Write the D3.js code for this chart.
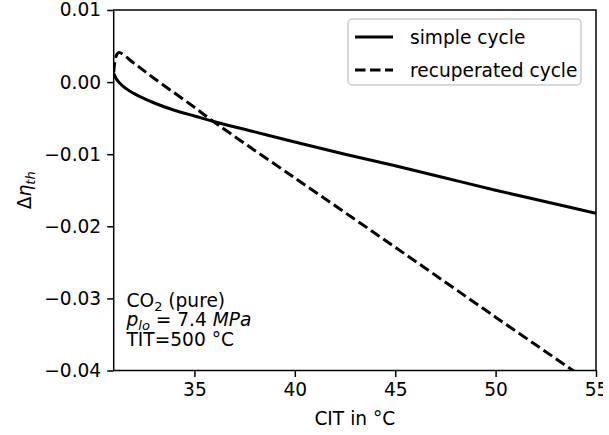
<!DOCTYPE html>
<html>
<head>
<meta charset="utf-8">
<script src="https://cdn.jsdelivr.net/npm/d3@7"></script>
<style>
  body { margin: 0; background: #fff; }
  svg { font-family: "DejaVu Sans", sans-serif; }
</style>
</head>
<body>
<div id="chart"></div>
<script>
// data
const simpleX = [30.98, 31.0, 31.1, 31.3, 31.6, 32, 32.5, 33, 34, 35, 36, 38, 40, 42.5, 45, 47.5, 50, 52.5, 55];
const simpleY = [0.0012, 0.0011, 0.0005, -0.0002, -0.0009, -0.0016, -0.0023, -0.0029, -0.0039, -0.0047, -0.0055, -0.0069, -0.0083, -0.0100, -0.0116, -0.0133, -0.0150, -0.0166, -0.0182];
const recupX = [30.98, 31.02, 31.08, 31.15, 31.25, 32, 33, 35, 35.86, 40, 45, 50, 53.85, 54.5];
const recupY = [0.0013, 0.0025, 0.0034, 0.0039, 0.0041, 0.0026, 0.0005, -0.0035, -0.0053, -0.0133, -0.0229, -0.0326, -0.0400, -0.0413];
const xTicks = [35, 40, 45, 50, 55];
const yTicks = [0.01, 0.00, -0.01, -0.02, -0.03, -0.04];

const simple = simpleX.map((x, i) => ({ x: x, y: simpleY[i] }));
const recup = recupX.map((x, i) => ({ x: x, y: recupY[i] }));

const margin = { top: 10, left: 113.7 };
const width = 596 - margin.left;
const height = 370.5 - margin.top;
const fs = 18.6;
const sub = 13;
const lw = 3;
const dash = "10.5,4.5";

const svg = d3.select("#chart").append("svg")
    .attr("width", 603)
    .attr("height", 435);

const g = svg.append("g")
    .attr("transform", "translate(" + margin.left + "," + margin.top + ")");

const x = d3.scaleLinear().domain([30.98, 55]).range([0, width]);
const y = d3.scaleLinear().domain([-0.04, 0.01]).range([height, 0]);

g.append("clipPath").attr("id", "clip")
    .append("rect").attr("width", width).attr("height", height);

const fmt = d => (d < 0 ? "\u2212" : "") + Math.abs(d).toFixed(2);

const xAxis = g.append("g")
    .attr("transform", "translate(0," + height + ")")
    .call(d3.axisBottom(x).tickValues(xTicks).tickSize(6.5).tickPadding(6).tickFormat(d3.format("d")));
const yAxis = g.append("g")
    .call(d3.axisLeft(y).tickValues(yTicks).tickSize(6.5).tickPadding(6).tickFormat(fmt));

[xAxis, yAxis].forEach(a => {
    a.select(".domain").remove();
    a.selectAll("line").attr("stroke", "#000").attr("stroke-width", 1.5);
    a.selectAll("text").attr("fill", "#000").style("font-size", fs + "px")
        .style("font-family", "DejaVu Sans");
});

const line = d3.line().x(d => x(d.x)).y(d => y(d.y)).curve(d3.curveMonotoneX);

g.append("path").datum(simple)
    .attr("clip-path", "url(#clip)")
    .attr("fill", "none").attr("stroke", "#000").attr("stroke-width", lw)
    .attr("d", line);

g.append("path").datum(recup)
    .attr("clip-path", "url(#clip)")
    .attr("fill", "none").attr("stroke", "#000").attr("stroke-width", lw)
    .attr("stroke-dasharray", dash)
    .attr("d", d3.line().x(d => x(d.x)).y(d => y(d.y)).curve(d3.curveCatmullRom));

// frame
g.append("rect").attr("width", width).attr("height", height)
    .attr("fill", "none").attr("stroke", "#000").attr("stroke-width", 1.5);

// legend
const leg = svg.append("g").attr("transform", "translate(348,19)");
leg.append("rect").attr("width", 233).attr("height", 66).attr("rx", 4)
    .attr("fill", "#fff").attr("fill-opacity", 0.8)
    .attr("stroke", "#ccc").attr("stroke-width", 1.5);
const items = [{ name: "simple cycle", dash: null }, { name: "recuperated cycle", dash: dash }];
items.forEach((it, i) => {
    const yy = 18 + i * 33;
    leg.append("line").attr("x1", 7).attr("x2", 45).attr("y1", yy).attr("y2", yy)
        .attr("stroke", "#000").attr("stroke-width", lw)
        .attr("stroke-dasharray", it.dash);
    leg.append("text").attr("x", 62).attr("y", yy + 6.5)
        .style("font-size", fs + "px").text(it.name);
});

// annotation
const ann = svg.append("g").style("font-size", fs + "px");
const t1 = ann.append("text").attr("x", 126.5).attr("y", 306.5);
t1.append("tspan").text("CO");
t1.append("tspan").attr("dy", 4).style("font-size", sub + "px").text("2");
t1.append("tspan").attr("dy", -4).text(" (pure)");
const t2 = ann.append("text").attr("x", 126.5).attr("y", 326);
t2.append("tspan").style("font-style", "italic").text("p");
t2.append("tspan").attr("dy", 4).style("font-style", "italic").style("font-size", sub + "px").text("lo");
t2.append("tspan").attr("dy", -4).text(" = 7.4 ");
t2.append("tspan").style("font-style", "italic").text("MPa");
ann.append("text").attr("x", 126.5).attr("y", 345.5).text("TIT=500 \u00b0C");

// axis titles
svg.append("text")
    .attr("x", margin.left + width / 2).attr("y", 425)
    .attr("text-anchor", "middle").style("font-size", fs + "px")
    .text("CIT in \u00b0C");

const yl = svg.append("text")
    .attr("transform", "translate(31," + (margin.top + height / 2) + ") rotate(-90)")
    .attr("text-anchor", "middle").style("font-size", fs + "px");
yl.append("tspan").text("\u0394");
yl.append("tspan").style("font-style", "italic").text("\u03b7");
yl.append("tspan").attr("dy", 4).style("font-style", "italic").style("font-size", sub + "px").text("th");
</script>
</body>
</html>
